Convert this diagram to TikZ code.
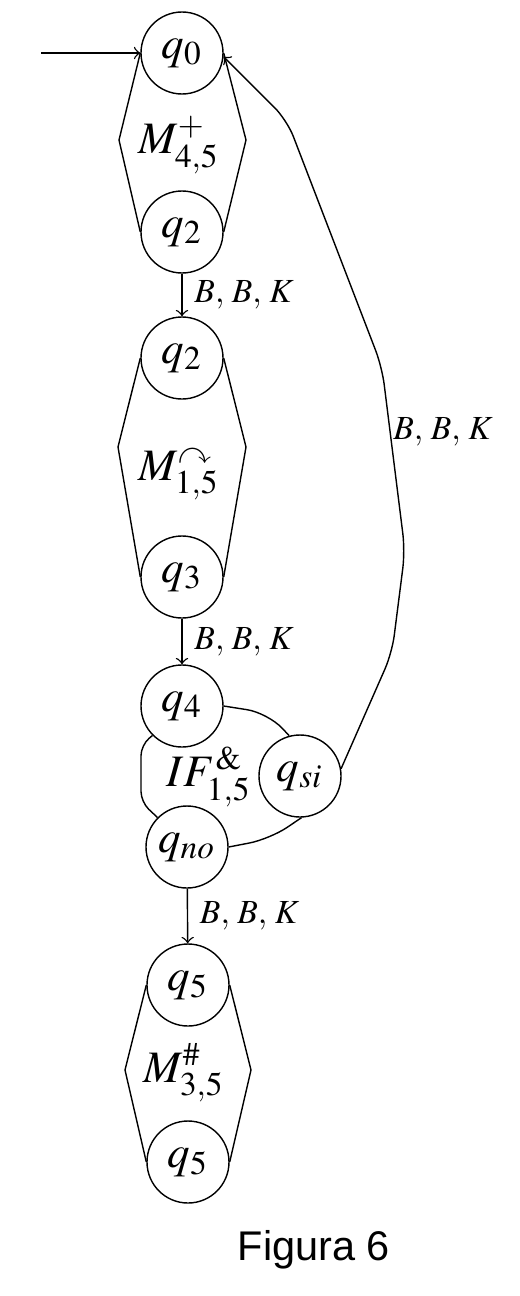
\documentclass[tikz,border=0pt]{standalone}
\usepackage{amsmath,amssymb}
\usepackage{mathptmx}
\usepackage[no-math]{fontspec}
\newfontfamily\figfont{Liberation Sans}

\begin{document}
\begin{tikzpicture}[
  state/.style={circle,draw,minimum size=8.2mm,inner sep=0pt,
                font=\fontsize{12.8}{15}\selectfont},
  mlabel/.style={font=\fontsize{12.8}{15}\selectfont},
  elabel/.style={font=\fontsize{9.6}{12}\selectfont}]
  \useasboundingbox (0,0) rectangle (5.2,-12.96);
  % The states, top to bottom.
  \node[state] (q0)  at (1.82,-0.53)  {$q_0$};
  \node[state] (q2a) at (1.82,-2.32)  {$q_2$};
  \node[state] (q2b) at (1.82,-3.58)  {$q_2$};
  \node[state] (q3)  at (1.82,-5.77)  {$q_3$};
  \node[state] (q4)  at (1.82,-7.06)  {$q_4$};
  \node[state] (qsi) at (3.00,-7.76)  {$q_{si}$};
  \node[state] (qno) at (1.87,-8.47)  {$q_{no}$};
  \node[state] (q5a) at (1.88,-9.85)  {$q_5$};
  \node[state] (q5b) at (1.88,-11.62) {$q_5$};
  \coordinate (start) at (0.41,-0.53);
  \draw[->] (start) -- (q0);

  % Machine boxes (hexagons) and their names.
  \draw (q0.west) -- (1.19,-1.40) -- (q2a.west)
        (q0.east) -- (2.46,-1.40) -- (q2a.east);
  \node[mlabel] (m1) at (1.79,-1.45) {$M^{+}_{4,5}$};
  \draw (q2b.west) -- (1.18,-4.47) -- (q3.west)
        (q2b.east) -- (2.46,-4.47) -- (q3.east);
  \node[mlabel] (m2) at (1.79,-4.75) {$M^{\curvearrowright}_{1,5}$};
  \draw (q5a.west) -- (1.25,-10.70) -- (q5b.west)
        (q5a.east) -- (2.51,-10.70) -- (q5b.east);
  \node[mlabel] (m3) at (1.84,-10.73) {$M^{\#}_{3,5}$};

  % The test box with its two exits.
  \draw[rounded corners=3pt] (q4.225) -- (1.41,-7.45) -- (1.41,-8.02) -- (qno.135);
  \draw[rounded corners=6pt] (q4.east) -- (2.68,-7.13) -- (qsi.105);
  \draw[rounded corners=6pt] (qno.east) -- (2.70,-8.39) -- (qsi.-88);
  \node[mlabel] (m4) at (2.09,-7.77) {$IF^{\&}_{1,5}$};

  % Transitions.
  \draw[->] (q2a) -- (q2b) node[midway,right,elabel] {$B,\,B,\,K$};
  \draw[->] (q3) -- (q4) node[midway,right,elabel] {$B,\,B,\,K$};
  \draw[->] (qno) -- (q5a) node[midway,right,elabel] {$B,\,B,\,K$};
  \draw[->,rounded corners=5pt] (qsi.10) -- (3.92,-6.53) -- (4.05,-5.51)
        -- (3.82,-3.67) -- (2.87,-1.20) -- (q0.-5);
  \node[elabel] (back) at (4.43,-4.32) {$B,\,B,\,K$};

  \node[font=\figfont\fontsize{11.8}{14}\selectfont] (cap) at (3.14,-12.50) {Figura 6};
\end{tikzpicture}
\end{document}
